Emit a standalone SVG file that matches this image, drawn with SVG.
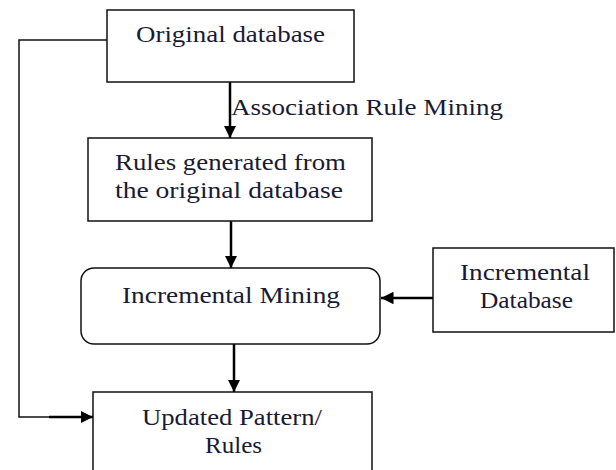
<svg xmlns="http://www.w3.org/2000/svg" width="616" height="470" viewBox="0 0 616 470">
  <style>
    .box { fill: #ffffff; stroke: #111111; stroke-width: 1.5; }
    .lbl { font-family: "Liberation Serif", "Times New Roman", serif; font-size: 24px; fill: #1a1a33; text-anchor: middle; }
    .conn { fill: none; stroke: #000000; stroke-width: 2.5; }
    .thin { fill: none; stroke: #111111; stroke-width: 1.5; }
  </style>
  <defs>
    <marker id="arrow" viewBox="0 0 10 10" refX="10" refY="5" markerWidth="5" markerHeight="5" markerUnits="strokeWidth" orient="auto">
      <path d="M0,0 L10,5 L0,10 Z" fill="#000000"/>
    </marker>
    <marker id="arrowThin" viewBox="0 0 10 10" refX="10" refY="5" markerWidth="8" markerHeight="8" markerUnits="strokeWidth" orient="auto">
      <path d="M0,0 L10,5 L0,10 Z" fill="#000000"/>
    </marker>
  </defs>
  <rect width="616" height="470" fill="#ffffff"/>

  <g id="connectors">
    <path class="thin" d="M107,40 H19 V417 H50"/>
    <line class="conn" x1="49" y1="417" x2="93" y2="417" marker-end="url(#arrow)"/>
    <line class="conn" x1="230" y1="82" x2="230" y2="138" marker-end="url(#arrow)"/>
    <line class="conn" x1="231" y1="221" x2="231" y2="268" marker-end="url(#arrow)"/>
    <line class="conn" x1="234" y1="344" x2="234" y2="392" marker-end="url(#arrow)"/>
    <line class="conn" x1="433" y1="298" x2="381" y2="298" marker-end="url(#arrow)"/>
    <text class="lbl" x="231" y="115" style="text-anchor:start" textLength="272" lengthAdjust="spacingAndGlyphs">Association Rule Mining</text>
  </g>

  <g id="original-database">
    <rect class="box" x="107" y="10" width="247" height="72"/>
    <text class="lbl" x="230.5" y="42" textLength="189" lengthAdjust="spacingAndGlyphs">Original database</text>
  </g>

  <g id="rules-generated">
    <rect class="box" x="88" y="138" width="284" height="83"/>
    <text class="lbl" x="230.5" y="170" textLength="231" lengthAdjust="spacingAndGlyphs">Rules generated from</text>
    <text class="lbl" x="229" y="198" textLength="228" lengthAdjust="spacingAndGlyphs">the original database</text>
  </g>

  <g id="incremental-mining">
    <rect class="box" x="81" y="268" width="299" height="76" rx="13" ry="13"/>
    <text class="lbl" x="231" y="303" textLength="218" lengthAdjust="spacingAndGlyphs">Incremental Mining</text>
  </g>

  <g id="incremental-database">
    <rect class="box" x="433" y="248" width="181" height="84"/>
    <text class="lbl" x="525" y="280" textLength="130" lengthAdjust="spacingAndGlyphs">Incremental</text>
    <text class="lbl" x="526.5" y="308" textLength="93" lengthAdjust="spacingAndGlyphs">Database</text>
  </g>

  <g id="updated-pattern-rules">
    <rect class="box" x="93" y="392" width="279" height="90"/>
    <text class="lbl" x="232" y="425" textLength="180" lengthAdjust="spacingAndGlyphs">Updated Pattern/</text>
    <text class="lbl" x="233.5" y="453" textLength="57" lengthAdjust="spacingAndGlyphs">Rules</text>
  </g>
</svg>
